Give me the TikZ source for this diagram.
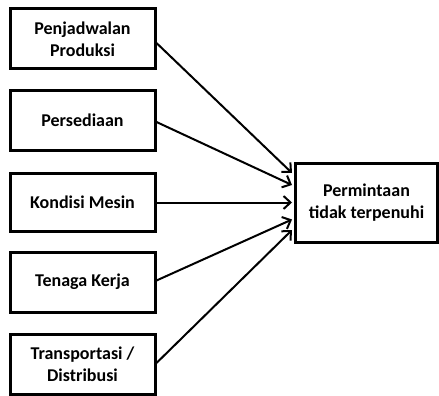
\documentclass[tikz,border=0pt]{standalone}
\usepackage{fontspec}
\setmainfont{Carlito}
\usetikzlibrary{arrows.meta,calc}
\begin{document}
\begin{tikzpicture}[x=1pt,y=-1pt,
  box/.style={draw,line width=3pt,minimum width=145pt,align=center,
    font=\bfseries\fontsize{18}{22}\selectfont,inner sep=0pt},
  conn/.style={line width=2pt,-{Straight Barb[length=7pt,width=13pt,line width=2pt]}}]
\useasboundingbox (0,0) rectangle (439,396);
\node[box,minimum height=60pt] (a) at (82.5,39) {Penjadwalan\\Produksi};
\node[box,minimum height=60pt] (b) at (82.5,120.5) {Persediaan};
\node[box,minimum height=58pt] (c) at (82.5,202.5) {Kondisi Mesin};
\node[box,minimum height=60pt] (d) at (82.5,282) {Tenaga Kerja};
\node[box,minimum height=60pt] (e) at (82.5,364) {Transportasi /\\Distribusi};
\node[box,minimum width=142pt,minimum height=79pt] (t) at (366.5,202.5) {Permintaan\\tidak terpenuhi};
\coordinate (sa) at ($(a.east)+(0,4)$);
\coordinate (sb) at ($(b.east)+(0,1.5)$);
\coordinate (sd) at ($(d.east)+(0,-1.5)$);
\coordinate (se) at ($(e.east)+(0,-1)$);
\coordinate (ea) at ($(t.west)+(-2,-29.5)$);
\coordinate (eb) at ($(t.west)+(-2,-17.5)$);
\coordinate (ec) at ($(t.west)+(-2,0)$);
\coordinate (ed) at ($(t.west)+(-2,17)$);
\coordinate (ee) at ($(t.west)+(-2,27.5)$);
\draw[conn] (sa) -- (ea);
\draw[conn] (sb) -- (eb);
\draw[conn] (c.east) -- (ec);
\draw[conn] (sd) -- (ed);
\draw[conn] (se) -- (ee);
\end{tikzpicture}
\end{document}
